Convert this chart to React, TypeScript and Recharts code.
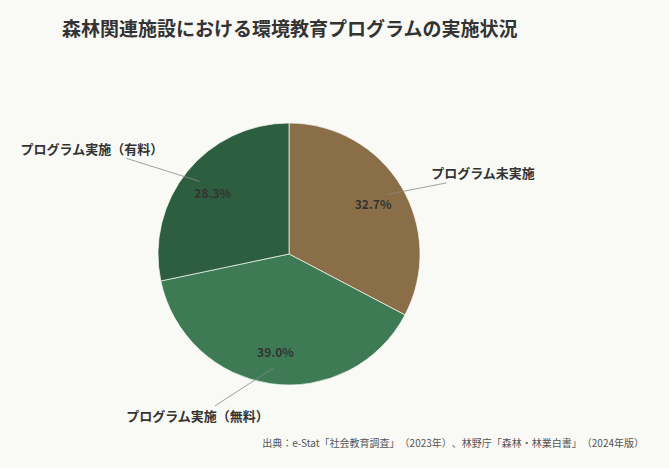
import React from 'react'
import { PieChart, Pie, Cell } from 'recharts'

// 森林関連施設における環境教育プログラムの実施状況
const categories = ['プログラム未実施', 'プログラム実施（無料）', 'プログラム実施（有料）']
const shares = [32.7, 39.0, 28.3]
const colors = ['#8a6e47', '#3e7b54', '#2c5e3f']

const data = categories.map((name, i) => ({ name, value: shares[i] }))

// how far each leader line reaches, as a multiple of the radius
const LABEL_REACH = [1.32, 1.29, 1.44]

const FONT = '"Noto Sans CJK JP", "Noto Sans", sans-serif'
const RAD = Math.PI / 180

const renderLabel = (props: any) => {
  const { cx, cy, midAngle, outerRadius, value, name, index } = props
  const mid = ((midAngle % 360) + 360) % 360
  // push leader end toward the horizontal axis
  const h = mid > 90 && mid < 270 ? 180 : mid >= 270 ? 360 : 0
  const endAng = h + (mid - h) * 0.78
  const pt = (r: number, a: number) => ({
    x: cx + r * Math.cos(-a * RAD),
    y: cy + r * Math.sin(-a * RAD),
  })
  const pct = pt(outerRadius * 0.75, mid)
  const start = pt(outerRadius * 0.88, mid)
  const end = pt(outerRadius * (LABEL_REACH[index] ?? 1.3), endAng)
  const c = Math.cos(endAng * RAD)
  const s = Math.sin(endAng * RAD)
  const tx = end.x + 40 * c
  const ty = end.y - 10 * Math.sign(s)
  return (
    <g>
      <text
        x={pct.x}
        y={pct.y}
        textAnchor="middle"
        dominantBaseline="central"
        fill="#333"
        fontSize={12}
        fontWeight={700}
        fontFamily={FONT}
      >
        {value.toFixed(1)}%
      </text>
      <line x1={start.x} y1={start.y} x2={end.x} y2={end.y} stroke="#888" strokeWidth={0.8} />
      <text
        x={tx}
        y={ty}
        textAnchor="middle"
        dominantBaseline="central"
        fill="#333"
        fontSize={13}
        fontWeight={700}
        fontFamily={FONT}
      >
        {name}
      </text>
    </g>
  )
}

export default function App() {
  return (
    <div
      style={{
        position: 'fixed',
        left: 0,
        top: 0,
        width: 669,
        height: 468,
        background: '#f9f9f5',
        fontFamily: FONT,
      }}
    >
      <div
        style={{
          position: 'absolute',
          left: 62,
          top: 18,
          fontSize: 19,
          lineHeight: '19px',
          fontWeight: 700,
          color: '#333',
          whiteSpace: 'nowrap',
        }}
      >
        森林関連施設における環境教育プログラムの実施状況
      </div>
      <PieChart
        width={669}
        height={468}
        margin={{ top: 0, right: 0, bottom: 0, left: 0 }}
        style={{ position: 'absolute', left: 0, top: 0 }}
      >
        <Pie
          data={data}
          dataKey="value"
          nameKey="name"
          cx={289}
          cy={254}
          outerRadius={131}
          startAngle={90}
          endAngle={-270}
          stroke="#f9f9f5"
          strokeWidth={0.7}
          label={renderLabel}
          labelLine={false}
          isAnimationActive={false}
        >
          {data.map((d, i) => (
            <Cell key={d.name} fill={colors[i]} />
          ))}
        </Pie>
      </PieChart>
      <div
        style={{
          position: 'absolute',
          right: 25,
          top: 437,
          fontSize: 10,
          lineHeight: '11px',
          color: '#555',
          whiteSpace: 'nowrap',
          textSpacingTrim: 'space-all',
        } as React.CSSProperties}
      >
        出典：e-Stat「社会教育調査」（2023年）、林野庁「森林・林業白書」（2024年版）
      </div>
    </div>
  )
}
